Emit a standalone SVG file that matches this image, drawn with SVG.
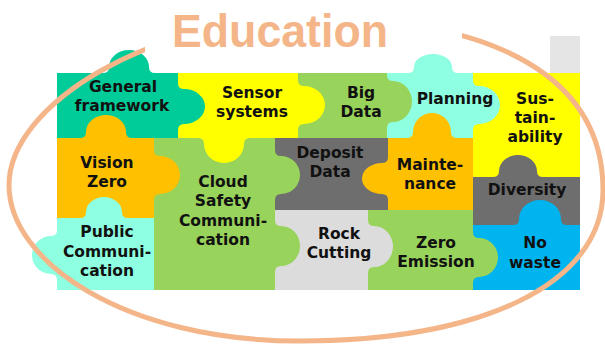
<svg xmlns="http://www.w3.org/2000/svg" width="605" height="345" viewBox="0 0 605 345">
<defs>
<style>
.t{font-family:"DejaVu Sans",sans-serif;font-weight:bold;font-size:15.5px;fill:#111;text-anchor:middle}
.teal{fill:#00CC99}.yel{fill:#FFFF00}.grn{fill:#98D35B}.aqua{fill:#8EFFE0}.org{fill:#FFC000}.gry{fill:#6E6E6E}.lgry{fill:#DCDCDC}.blue{fill:#00B4F0}
</style>
<mask id="gap">
<rect x="0" y="0" width="605" height="345" fill="#fff"/>
<rect x="145" y="0" width="317" height="56" fill="#000"/>
</mask>
</defs>
<rect x="0" y="0" width="605" height="345" fill="#fff"/>
<rect x="550" y="36" width="30" height="37" fill="#E5E5E5"/>

<g id="sustainability">
<rect class="yel" x="473" y="73" width="107" height="104"/>
<text class="t" x="535" y="104">Sus-</text>
<text class="t" x="535" y="123">tain-</text>
<text class="t" x="535" y="142">ability</text>
</g>
<g id="diversity">
<rect class="gry" x="473" y="177" width="107" height="48"/>
<path class="gry" d="M493,179 V177 Q499,177 499,171 A19,16 0 0 1 537,171 Q537,177 543,177 V179Z"/>
<text class="t" x="527" y="195">Diversity</text>
</g>
<g id="no-waste">
<rect class="blue" x="473" y="225" width="107" height="65"/>
<path class="blue" d="M513,227 V225 Q519,225 519,219 A21,19 0 0 1 561,219 Q561,225 567,225 V227Z"/>
<text class="t" x="535" y="248">No</text>
<text class="t" x="535" y="268">waste</text>
</g>
<g id="zero-emission">
<rect class="grn" x="368" y="210" width="105" height="80"/>
<path class="grn" d="M471,232 H473 Q473,238 479,238 A19,19.5 0 0 1 479,277 Q473,277 473,283 H471Z"/>
<text class="t" x="436" y="248">Zero</text>
<text class="t" x="436" y="267">Emission</text>
</g>
<g id="rock-cutting">
<rect class="lgry" x="275" y="210" width="93" height="80"/>
<path class="lgry" d="M366,220 H368 Q368,226 374,226 A19,20.5 0 0 1 374,267 Q368,267 368,273 H366Z"/>
<text class="t" x="339" y="239">Rock</text>
<text class="t" x="339" y="258">Cutting</text>
</g>
<g id="deposit-data">
<rect class="gry" x="275" y="138" width="113" height="72"/>
<text class="t" x="330" y="158">Deposit</text>
<text class="t" x="330" y="177">Data</text>
</g>
<g id="cloud-safety">
<rect class="grn" x="154" y="138" width="121" height="152"/>
<path class="grn" d="M273,150 H275 Q275,156 281,156 A19,19 0 0 1 281,194 Q275,194 275,200 H273Z"/>
<path class="grn" d="M273,220 H275 Q275,226 281,226 A19,20 0 0 1 281,266 Q275,266 275,272 H273Z"/>
<text class="t" x="223" y="187">Cloud</text>
<text class="t" x="223" y="206">Safety</text>
<text class="t" x="223" y="226">Communi-</text>
<text class="t" x="223" y="245">cation</text>
</g>
<g id="planning">
<rect class="aqua" x="387" y="73" width="86" height="65"/>
<path class="aqua" d="M408,75 V73 Q414,73 414,67 A19,13 0 0 1 452,67 Q452,73 458,73 V75Z"/>
<path class="aqua" d="M471,80 H473 Q473,86 479,86 A21,19 0 0 1 479,124 Q473,124 473,130 H471Z"/>
<text class="t" x="455" y="104">Planning</text>
</g>
<g id="big-data">
<rect class="grn" x="298" y="73" width="89" height="65"/>
<path class="grn" d="M385,75 H387 Q387,81 393,81 A19,20.5 0 0 1 393,122 Q387,122 387,128 H385Z"/>
<text class="t" x="361" y="98">Big</text>
<text class="t" x="361" y="117">Data</text>
</g>
<g id="maintenance">
<rect class="org" x="388" y="138" width="85" height="72"/>
<path class="org" d="M407,140 V138 Q413,138 413,132 A19,19 0 0 1 451,132 Q451,138 457,138 V140Z"/>
<path class="org" d="M390,157 H388 Q388,163 382,163 A20,15.5 0 0 0 382,194 Q388,194 388,200 H390Z"/>
<text class="t" x="430" y="170">Mainte-</text>
<text class="t" x="430" y="189">nance</text>
</g>
<g id="sensor-systems">
<rect class="yel" x="178" y="73" width="120" height="65"/>
<path class="yel" d="M198,136 V138 Q204,138 204,144 A20,19 0 0 0 244,144 Q244,138 250,138 V136Z"/>
<path class="yel" d="M296,80 H298 Q298,86 304,86 A21,19 0 0 1 304,124 Q298,124 298,130 H296Z"/>
<text class="t" x="252" y="98">Sensor</text>
<text class="t" x="252" y="117">systems</text>
</g>
<g id="general-framework">
<rect class="teal" x="57" y="73" width="121" height="65"/>
<path class="teal" d="M103,75 V73 Q109,73 109,67 A20,17 0 0 1 149,67 Q149,73 155,73 V75Z"/>
<path class="teal" d="M176,83 H178 Q178,89 184,89 A21,17.5 0 0 1 184,124 Q178,124 178,130 H176Z"/>
<text class="t" x="123" y="92">General</text>
<text class="t" x="122" y="111">framework</text>
</g>
<g id="vision-zero">
<rect class="org" x="57" y="138" width="97" height="80"/>
<path class="org" d="M80,140 V138 Q86,138 86,132 A20,17 0 0 1 126,132 Q126,138 132,138 V140Z"/>
<path class="org" d="M152,150 H154 Q154,156 160,156 A20,19 0 0 1 160,194 Q154,194 154,200 H152Z"/>
<text class="t" x="107" y="168">Vision</text>
<text class="t" x="107" y="187">Zero</text>
</g>
<g id="public-communication">
<rect class="aqua" x="57" y="218" width="97" height="72"/>
<path class="aqua" d="M80,220 V218 Q86,218 86,212 A18,15 0 0 1 122,212 Q122,218 128,218 V220Z"/>
<path class="aqua" d="M59,230 H57 Q57,236 51,236 A19,19 0 0 0 51,274 Q57,274 57,280 H59Z"/>
<text class="t" x="107" y="237">Public</text>
<text class="t" x="107" y="257">Communi-</text>
<text class="t" x="107" y="276">cation</text>
</g>

<g id="education">
<path d="M9,185 C9,105 150,18 310,18 C500,18 603,80 603,190 C603,285 480,341 300,341 C125,341 9,262 9,185Z" fill="none" stroke="#F4B589" stroke-width="5" mask="url(#gap)"/>
<text x="280" y="47" font-family="Liberation Sans, Arial, sans-serif" font-weight="bold" font-size="47" fill="#F4B589" text-anchor="middle" textLength="216" lengthAdjust="spacingAndGlyphs">Education</text>
</g>
</svg>
